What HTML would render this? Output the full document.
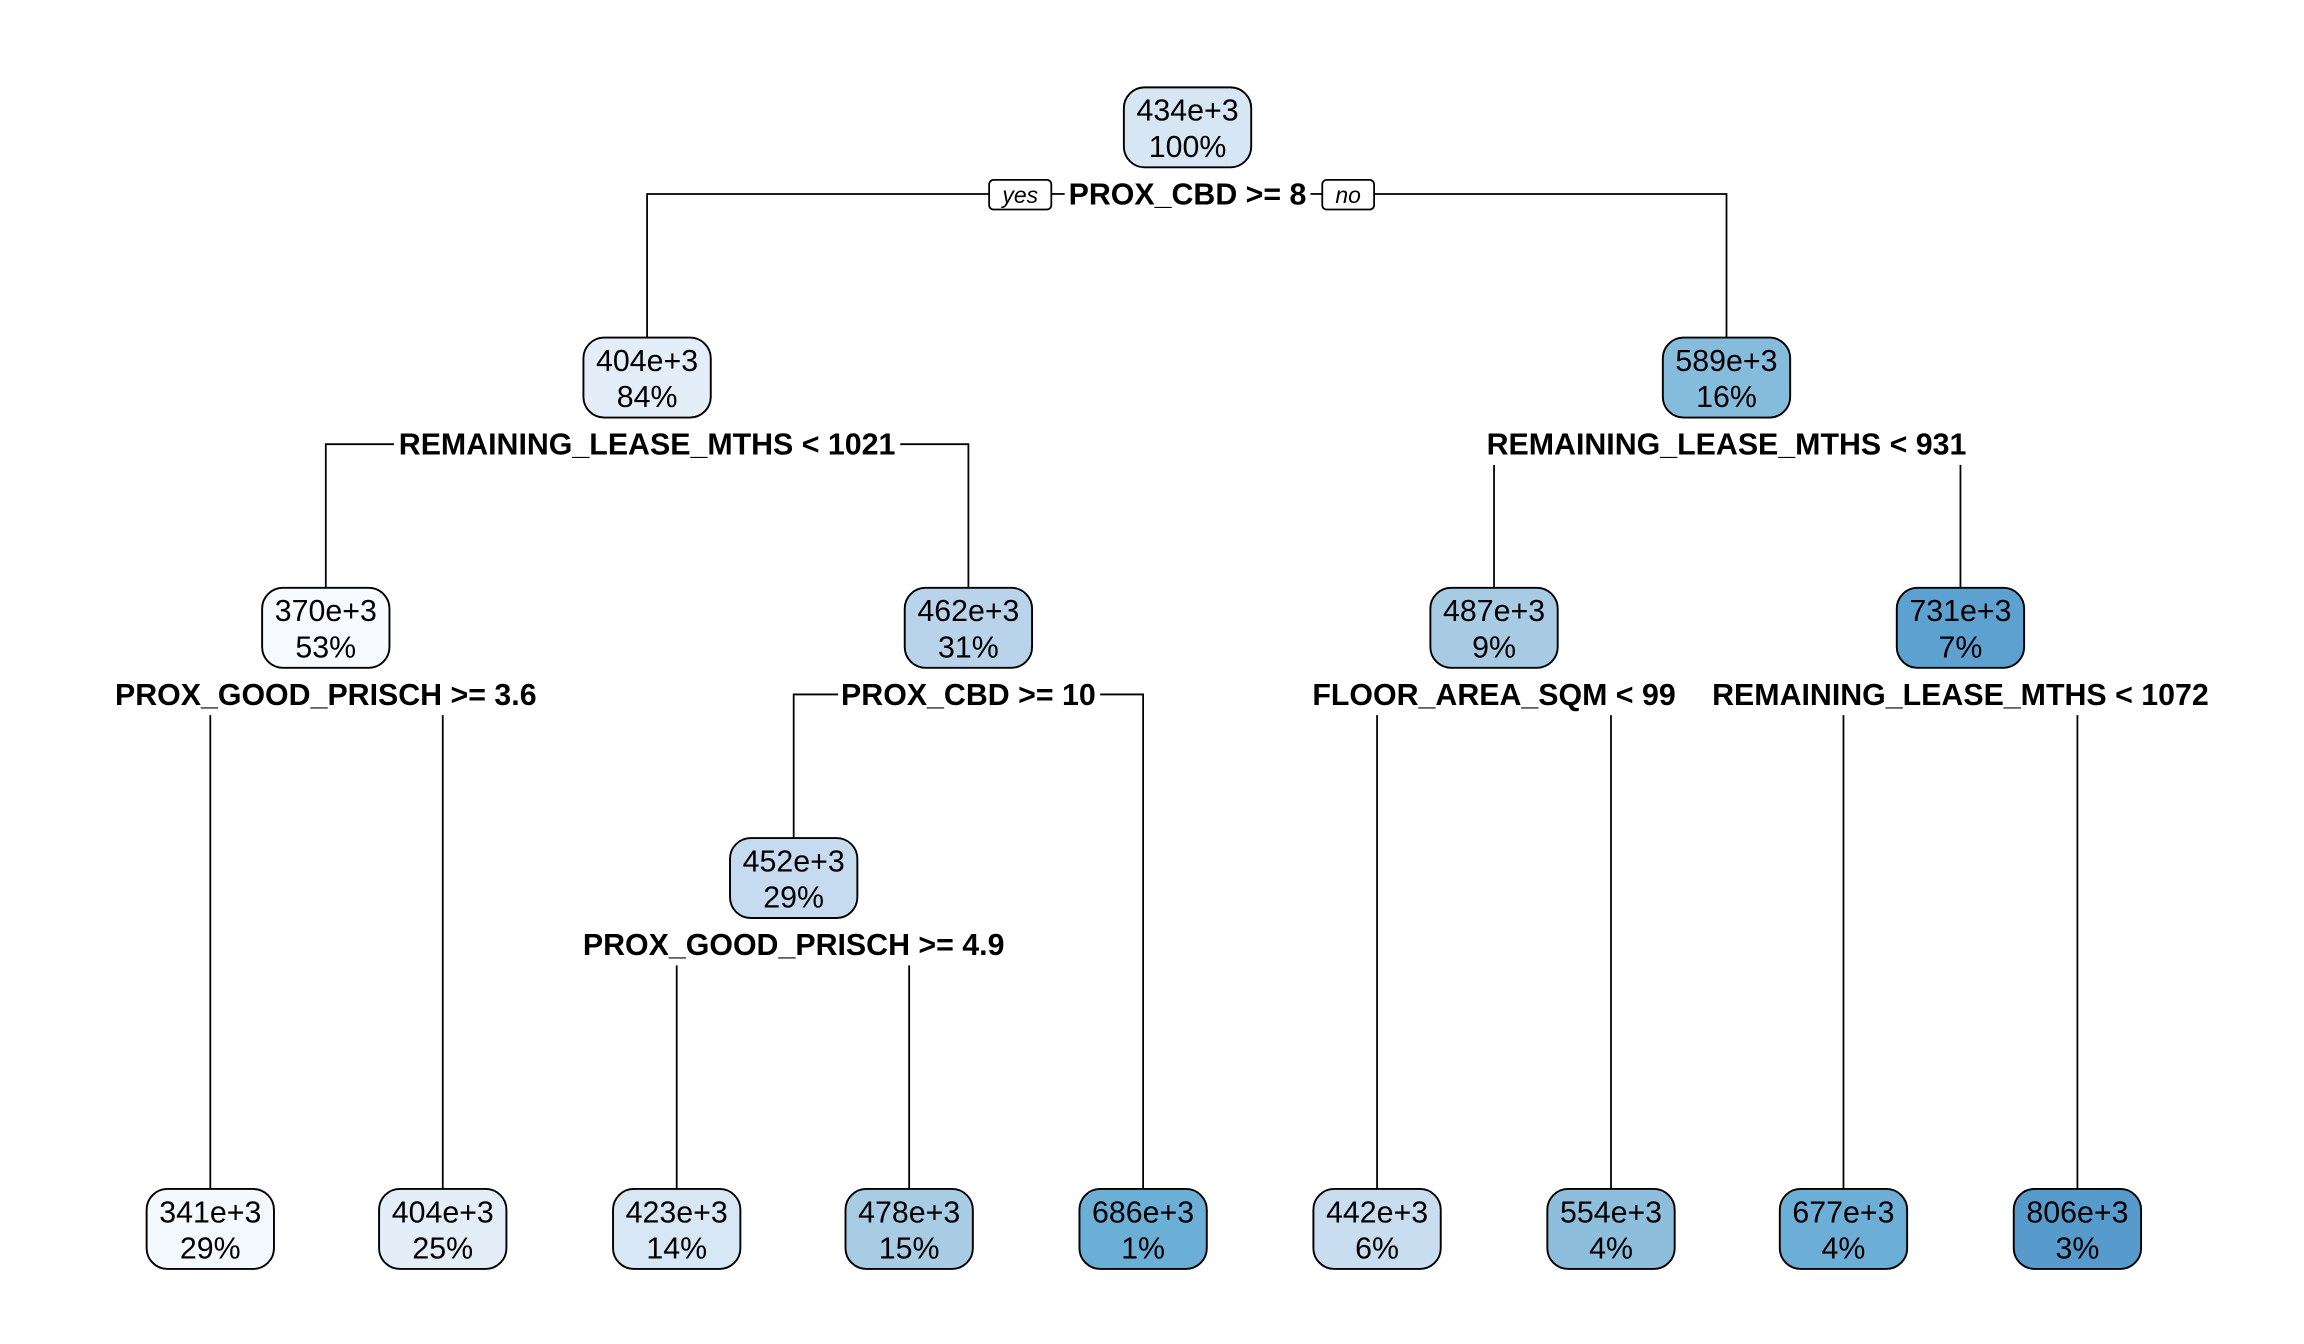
<!DOCTYPE html>
<html><head><meta charset="utf-8"><style>
html,body{margin:0;padding:0;background:#fff;}
svg{display:block;}
text{font-family:"Liberation Sans",Arial,sans-serif;}
.n{font-size:20.5px;fill:#000;text-anchor:middle;}
.l{font-size:20.5px;font-weight:bold;fill:#000;text-anchor:middle;}
.yn{font-size:15.5px;font-style:italic;fill:#000;text-anchor:middle;}
rect.b{stroke:#000;stroke-width:1.3;}
line,path{stroke:#000;stroke-width:1.2;fill:none;}
</style></head><body>
<svg width="2304" height="1344" viewBox="0 0 1556 907.7" xmlns="http://www.w3.org/2000/svg">
<rect width="1556" height="907.7" fill="#fff"/>
<path d="M437 228 V131 H668"/><path d="M710 131 H719"/><path d="M885 131 H893"/><path d="M928 131 H1166 V228"/>
<rect x="668" y="121.5" width="42" height="20" rx="3" fill="#fff" stroke="#000" stroke-width="1.2"/>
<text class="yn" x="689" y="137">yes</text>
<rect x="893" y="121.5" width="35" height="20" rx="3" fill="#fff" stroke="#000" stroke-width="1.2"/>
<text class="yn" x="910.5" y="137">no</text>
<text class="l" x="802" y="138">PROX_CBD &gt;= 8</text>
<path d="M220 397 V300 H266"/><path d="M608 300 H654 V397"/>
<text class="l" x="437" y="307">REMAINING_LEASE_MTHS &lt; 1021</text>
<text class="l" x="1166" y="307">REMAINING_LEASE_MTHS &lt; 931</text>
<line x1="1009" y1="314" x2="1009" y2="397"/><line x1="1324" y1="314" x2="1324" y2="397"/>
<text class="l" x="220" y="476">PROX_GOOD_PRISCH &gt;= 3.6</text>
<line x1="142" y1="483" x2="142" y2="803"/><line x1="299" y1="483" x2="299" y2="803"/>
<path d="M536 566 V469 H566"/><path d="M743 469 H772 V803"/>
<text class="l" x="654" y="476">PROX_CBD &gt;= 10</text>
<text class="l" x="1009" y="476">FLOOR_AREA_SQM &lt; 99</text>
<line x1="930" y1="483" x2="930" y2="803"/><line x1="1088" y1="483" x2="1088" y2="803"/>
<text class="l" x="1324" y="476">REMAINING_LEASE_MTHS &lt; 1072</text>
<line x1="1245" y1="483" x2="1245" y2="803"/><line x1="1403" y1="483" x2="1403" y2="803"/>
<text class="l" x="536" y="645">PROX_GOOD_PRISCH &gt;= 4.9</text>
<line x1="457" y1="652" x2="457" y2="803"/><line x1="614" y1="652" x2="614" y2="803"/>
<g>
<rect class="b" x="759" y="59" width="86" height="54" rx="14" fill="#d6e6f4"/><text class="n" x="802" y="81.5">434e+3</text><text class="n" x="802" y="106">100%</text>
<rect class="b" x="394" y="228" width="86" height="54" rx="14" fill="#e3eef9"/><text class="n" x="437" y="250.5">404e+3</text><text class="n" x="437" y="275">84%</text>
<rect class="b" x="1123" y="228" width="86" height="54" rx="14" fill="#85bbdb"/><text class="n" x="1166" y="250.5">589e+3</text><text class="n" x="1166" y="275">16%</text>
<rect class="b" x="177" y="397" width="86" height="54" rx="14" fill="#f7fbff"/><text class="n" x="220" y="419.5">370e+3</text><text class="n" x="220" y="444">53%</text>
<rect class="b" x="611" y="397" width="86" height="54" rx="14" fill="#b9d4ea"/><text class="n" x="654" y="419.5">462e+3</text><text class="n" x="654" y="444">31%</text>
<rect class="b" x="966" y="397" width="86" height="54" rx="14" fill="#a6cbe3"/><text class="n" x="1009" y="419.5">487e+3</text><text class="n" x="1009" y="444">9%</text>
<rect class="b" x="1281" y="397" width="86" height="54" rx="14" fill="#5ca1cf"/><text class="n" x="1324" y="419.5">731e+3</text><text class="n" x="1324" y="444">7%</text>
<rect class="b" x="493" y="566" width="86" height="54" rx="14" fill="#c6dbef"/><text class="n" x="536" y="588.5">452e+3</text><text class="n" x="536" y="613">29%</text>
<rect class="b" x="99" y="803" width="86" height="54" rx="14" fill="#f4f9fe"/><text class="n" x="142" y="825.5">341e+3</text><text class="n" x="142" y="850">29%</text>
<rect class="b" x="256" y="803" width="86" height="54" rx="14" fill="#e3eef9"/><text class="n" x="299" y="825.5">404e+3</text><text class="n" x="299" y="850">25%</text>
<rect class="b" x="414" y="803" width="86" height="54" rx="14" fill="#d8e7f5"/><text class="n" x="457" y="825.5">423e+3</text><text class="n" x="457" y="850">14%</text>
<rect class="b" x="571" y="803" width="86" height="54" rx="14" fill="#a8cce4"/><text class="n" x="614" y="825.5">478e+3</text><text class="n" x="614" y="850">15%</text>
<rect class="b" x="729" y="803" width="86" height="54" rx="14" fill="#6baed6"/><text class="n" x="772" y="825.5">686e+3</text><text class="n" x="772" y="850">1%</text>
<rect class="b" x="887" y="803" width="86" height="54" rx="14" fill="#c9ddf0"/><text class="n" x="930" y="825.5">442e+3</text><text class="n" x="930" y="850">6%</text>
<rect class="b" x="1045" y="803" width="86" height="54" rx="14" fill="#8dbfdd"/><text class="n" x="1088" y="825.5">554e+3</text><text class="n" x="1088" y="850">4%</text>
<rect class="b" x="1202" y="803" width="86" height="54" rx="14" fill="#6caed6"/><text class="n" x="1245" y="825.5">677e+3</text><text class="n" x="1245" y="850">4%</text>
<rect class="b" x="1360" y="803" width="86" height="54" rx="14" fill="#569bcc"/><text class="n" x="1403" y="825.5">806e+3</text><text class="n" x="1403" y="850">3%</text>
</g>
</svg>
</body></html>
